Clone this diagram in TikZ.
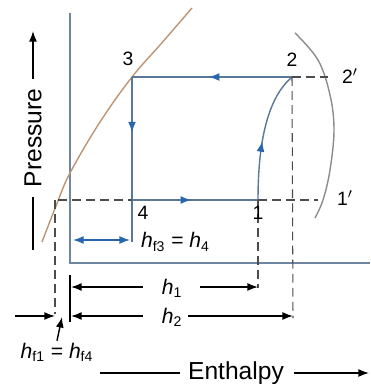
\documentclass[tikz,border=0pt]{standalone}
\usepackage{fontspec}
\setmainfont{Liberation Sans}
\usetikzlibrary{arrows.meta,calc,decorations.markings}
\definecolor{cyclec}{HTML}{5A7898}
\definecolor{flowc}{HTML}{2A66AE}
\definecolor{liqc}{HTML}{BC9574}
\definecolor{vapc}{HTML}{8C8C8C}
\definecolor{axisc}{HTML}{6E86A0}
\newcommand{\hsub}[1]{\textit{h}\textsubscript{#1}}
\tikzset{
  axisline/.style={draw=axisc, line width=0.8pt},
  cyc/.style={draw=cyclec, line width=0.8pt},
  flowmark/.style={postaction={decorate, decoration={markings,
      mark=at position #1 with {\arrow[flowc]{Latex[length=6pt,width=4.5pt]}}}}},
  dashline/.style={draw=black!70, dashed, dash pattern=on 5pt off 3pt, line width=0.6pt},
  dimarr/.style={-{Latex[length=6pt,width=4.5pt]}, line width=0.8pt},
  ptlbl/.style={font=\fontsize{11}{11}\selectfont, inner sep=1pt},
  hlbl/.style={font=\fontsize{12}{12}\selectfont, inner sep=1pt},
  axlbl/.style={font=\fontsize{14}{14}\selectfont, inner sep=2pt},
}
\begin{document}
\begin{tikzpicture}[x=0.02cm, y=-0.02cm]
  \useasboundingbox (0,0) rectangle (370,384);

  % state points and helpers
  \coordinate (p3) at (132,77);
  \coordinate (p2) at (292,77);
  \coordinate (p4) at (132,200);
  \coordinate (p1) at (258,200);
  \coordinate (p2dash) at (328,77);
  \coordinate (p1dash) at (318,200);
  \coordinate (p4low) at (132,242);
  \coordinate (o) at (70,263);
  \coordinate (ytop) at (70,13);
  \coordinate (xend) at (370,263);

  % axes
  \draw[axisline] (ytop) -- (o) -- (xend);

  % saturation curves
  \draw[draw=liqc, line width=0.8pt] plot[smooth, tension=0.6] coordinates
    {(42,242) (56,206) (70,173) (100,122) (132,77) (160,45) (192,8)};
  \draw[draw=vapc, line width=0.8pt] plot[smooth, tension=0.6] coordinates
    {(295,33) (318,60) (330,95) (334,130) (330,170) (323,200) (315,218)};

  % cycle
  \draw[cyc, flowmark=0.52] (p2) -- (p3);
  \draw[cyc, flowmark=0.45] (p3) -- (p4);
  \draw[cyc, flowmark=0.47] (p4) -- (p1);
  \draw[cyc, flowmark=0.45] (p1) .. controls (258,150) and (265,100) .. (p2);
  \draw[cyc] (p4) -- (p4low);

  % dashed guides
  \coordinate (l1) at (58,200);
  \coordinate (v0) at (55,200);
  \coordinate (v0low) at (55,314);
  \coordinate (v1low) at (258,288);
  \coordinate (v2low) at (293,318);
  \draw[dashline] (p2) -- (p2dash);
  \draw[dashline] (p1) -- (p1dash);
  \draw[dashline] (l1) -- (p4);
  \draw[dashline] (p1) -- (v1low);
  \draw[dashline] (p2) -- (v2low);
  \draw[dashline] (v0) -- (v0low);

  % point labels
  \node[ptlbl] (n3) at (128,59) {3};
  \node[ptlbl] (n2) at (292,60) {2};
  \node[ptlbl] (n2p) at (350,76) {2$'$};
  \node[ptlbl] (n1p) at (345,198) {1$'$};
  \node[ptlbl] (n4) at (143,213) {4};
  \node[ptlbl] (n1) at (258,213) {1};

  % h_f3 = h_4
  \coordinate (hf3a) at (73,240);
  \coordinate (hf3b) at (130,240);
  \draw[{Latex[length=6pt,width=4.5pt]}-{Latex[length=6pt,width=4.5pt]}, draw=flowc, line width=0.8pt] (hf3a) -- (hf3b);
  \node[hlbl, anchor=west] (hfthree) at (139,242) {\hsub{f3} = \hsub{4}};

  % enthalpy differences
  \coordinate (tktop) at (70,275);
  \coordinate (tkbot) at (70,322);
  \draw[line width=0.8pt] (tktop) -- (tkbot);
  \node[hlbl] (hone) at (172,288) {\hsub{1}};
  \node[hlbl] (htwo) at (172,317) {\hsub{2}};
  \coordinate (h1l) at (71,287);
  \coordinate (h1r) at (258,287);
  \coordinate (h2l) at (71,316);
  \coordinate (h2r) at (293,316);
  \draw[dimarr] (143,287) -- (h1l);
  \draw[dimarr] (200,287) -- (h1r);
  \draw[dimarr] (143,316) -- (h2l);
  \draw[dimarr] (188,316) -- (h2r);

  % h_f1 = h_f4
  \coordinate (lin) at (15,316);
  \coordinate (lintip) at (55,316);
  \draw[dimarr] (lin) -- (lintip);
  \node[hlbl] (hfone) at (57,352) {\hsub{f1} = \hsub{f4}};
  \coordinate (uptip) at (62,317);
  \draw[dimarr] (hfone.north) -- (uptip);

  % axis labels
  \node[axlbl, rotate=90] (pres) at (33,138) {Pressure};
  \coordinate (ptop) at (33,31);
  \coordinate (pbot) at (33,250);
  \draw[dimarr] (pres.east) ++(0,-6) -- (ptop);
  \draw[line width=0.8pt] ($(pres.west)+(0,6)$) -- (pbot);
  \node[axlbl] (enth) at (236,373) {Enthalpy};
  \coordinate (eleft) at (100,373);
  \coordinate (eright) at (369,373);
  \draw[line width=0.8pt] (eleft) -- ($(enth.west)+(-4,0)$);
  \draw[dimarr] ($(enth.east)+(6,0)$) -- (eright);
\end{tikzpicture}
\end{document}
